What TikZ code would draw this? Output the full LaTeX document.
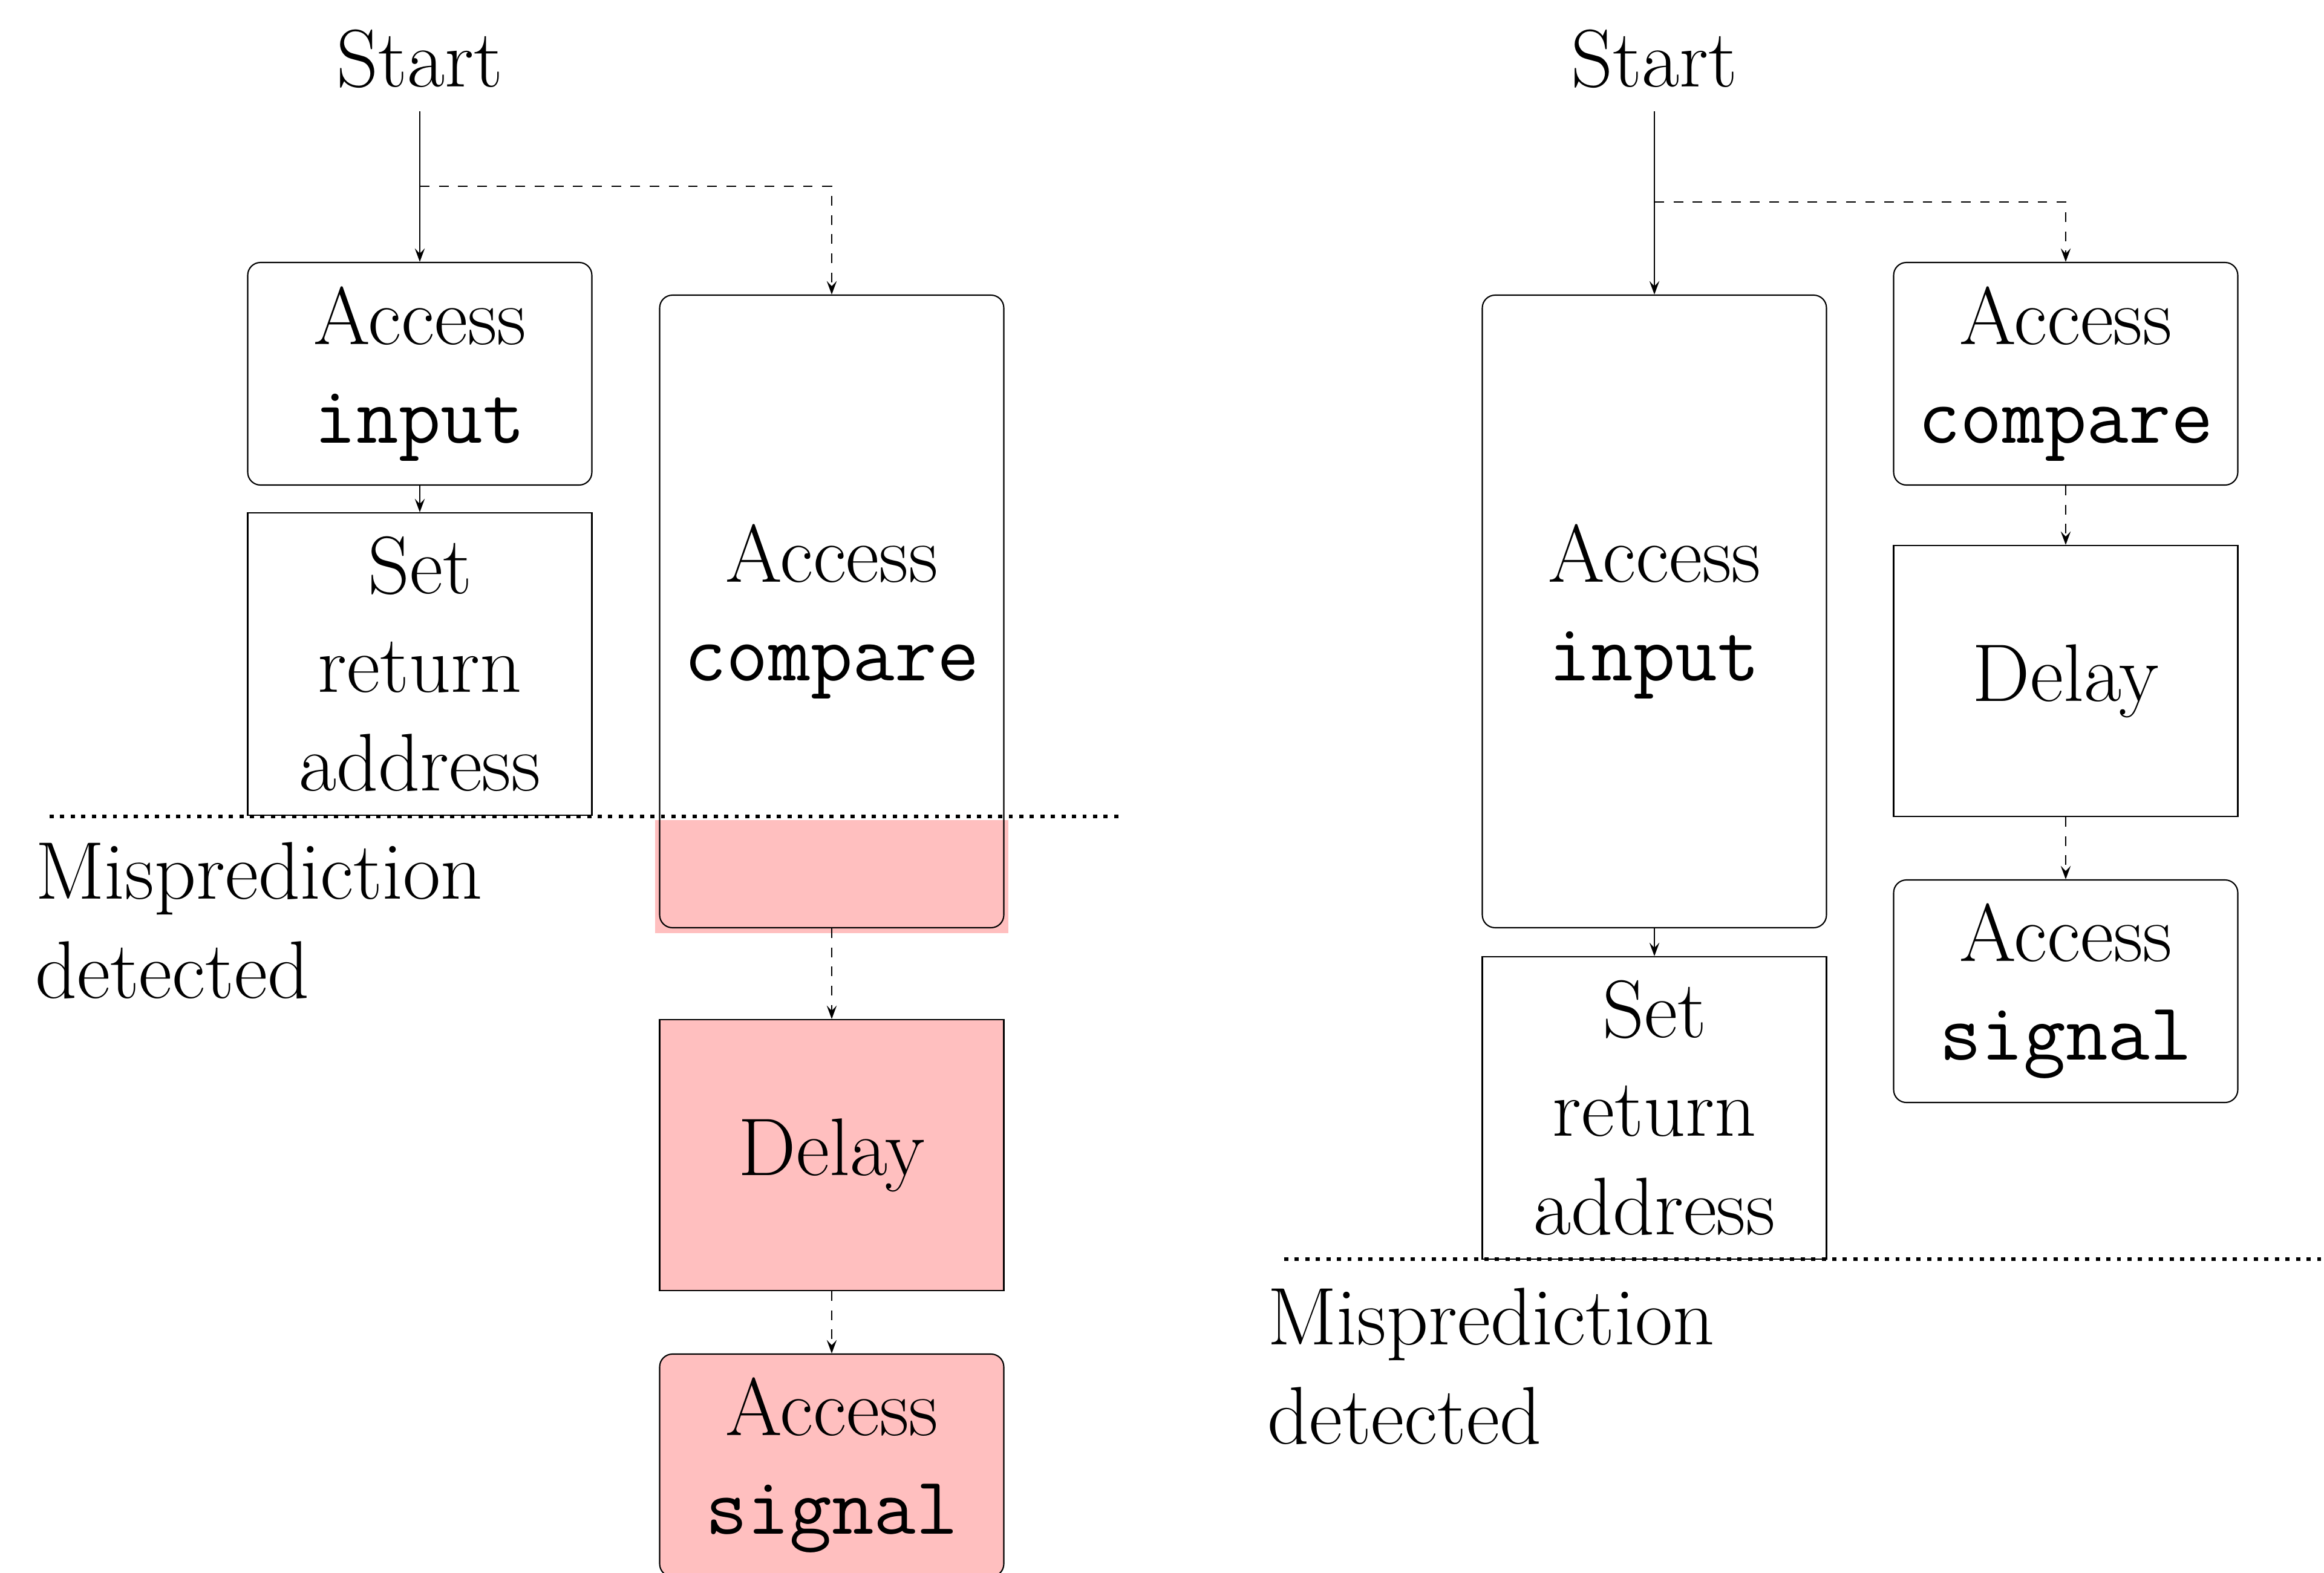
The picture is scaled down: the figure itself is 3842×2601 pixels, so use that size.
\documentclass[tikz,border=0pt]{standalone}
\usetikzlibrary{arrows.meta}
\newcommand{\bigtxt}{\fontsize{25.6pt}{30.9pt}\selectfont}
\begin{document}
\begin{tikzpicture}[x=0.18939pt,y=-0.18939pt,
  box/.style={draw, line width=0.4pt, minimum width=107.76pt, inner sep=0pt, align=center, font=\bigtxt},
  rbox/.style={box, rounded corners=4pt},
  hot/.style={fill=red!25},
  hA/.style={minimum height=69.70pt},
  hS/.style={minimum height=94.70pt},
  hT/.style={minimum height=198.10pt},
  hD/.style={minimum height=84.85pt},
  flow/.style={-{Stealth[length=4.2pt,width=3.1pt,inset=1.6pt]}, line width=0.4pt},
  cut/.style={dotted, line width=1.3pt},
  lbl/.style={font=\bigtxt, inner sep=0pt, align=left}]
\useasboundingbox (0,0) rectangle (3842,2601);

% highlight behind the tall compare box (left)
\fill[red!25] (1083,1356) rectangle (1667,1543);

% ---------- left diagram ----------
\node[font=\bigtxt, anchor=south, inner xsep=0pt, inner ysep=7pt] (lstart) at (694,184) {Start};
\node[rbox, hA] (lAI) at (694,618) {Access\\\texttt{input}};
\node[box, hS] (lSR) at (694,1098) {Set\\return\\address};
\node[rbox, hT] (lAC) at (1375,1011) {Access\\\texttt{compare}};
\node[box, hD, hot] (lDL) at (1375,1910) {Delay};
\node[rbox, hA, hot] (lSG) at (1375,2423) {Access\\\texttt{signal}};
\coordinate (lsplit) at (694,308);

\draw[flow] (lstart.south) -- (lAI.north);
\draw[flow, dashed] (lsplit) -| (lAC.north);
\draw[flow] (lAI.south) -- (lSR.north);
\draw[flow, dashed] (lAC.south) -- (lDL.north);
\draw[flow, dashed] (lDL.south) -- (lSG.north);

\draw[cut] (82,1350) -- (1855,1350);
\node[lbl, anchor=north west] (lmis) at (57,1392) {Misprediction\\detected};

% ---------- right diagram ----------
\node[font=\bigtxt, anchor=south, inner xsep=0pt, inner ysep=7pt] (rstart) at (2735,184) {Start};
\node[rbox, hT] (rAI) at (2735,1011) {Access\\\texttt{input}};
\node[box, hS] (rSR) at (2735,1832) {Set\\return\\address};
\node[rbox, hA] (rAC) at (3415,618) {Access\\\texttt{compare}};
\node[box, hD] (rDL) at (3415,1126) {Delay};
\node[rbox, hA] (rSG) at (3415,1639) {Access\\\texttt{signal}};
\coordinate (rsplit) at (2735,334);

\draw[flow] (rstart.south) -- (rAI.north);
\draw[flow, dashed] (rsplit) -| (rAC.north);
\draw[flow] (rAI.south) -- (rSR.north);
\draw[flow, dashed] (rAC.south) -- (rDL.north);
\draw[flow, dashed] (rDL.south) -- (rSG.north);

\draw[cut] (2123,2082) -- (3842,2082);
\node[lbl, anchor=north west] (rmis) at (2094,2129) {Misprediction\\detected};
\end{tikzpicture}
\end{document}
